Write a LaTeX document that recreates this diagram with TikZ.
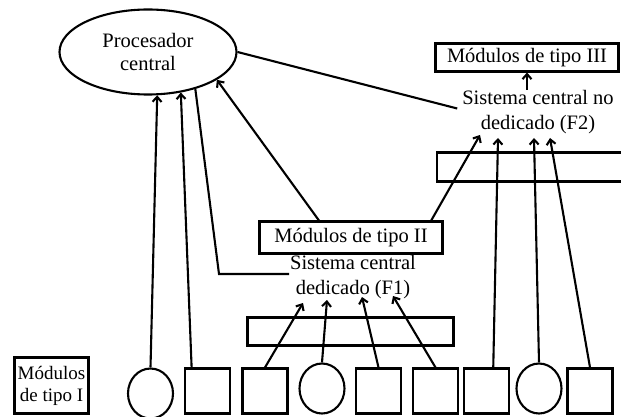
\documentclass[tikz,border=0pt]{standalone}
\usepackage{fontspec}
\setmainfont{Liberation Serif}
\usetikzlibrary{arrows.meta,calc,shapes.geometric}
\begin{document}
\begin{tikzpicture}[x=1pt,y=-1pt,
  line width=2.1pt,
  bigfont/.style={font=\fontsize{20.5}{25}\selectfont},
  txt/.style={bigfont, align=center, inner sep=0pt},
  box/.style={draw, rectangle, inner sep=0pt, bigfont},
  bar/.style={draw, rectangle, inner sep=0pt},
  circ/.style={draw, ellipse, inner sep=0pt, minimum width=45pt, minimum height=50pt},
  sq/.style={draw, rectangle, inner sep=0pt, minimum width=45pt, minimum height=45pt},
  arr/.style={-{Straight Barb[length=5pt,width=9pt]}}
]
\clip (0,0) rectangle (621,417);

% top
\node[draw, ellipse, minimum width=177pt, minimum height=85pt, inner sep=0pt,
      align=center, font=\fontsize{20.5}{23}\selectfont] (proc) at (148,52) {Procesador\\central};
\node[box, minimum width=183pt, minimum height=28pt] (m3) at (527,57.5) {Módulos de tipo III};
\node[txt] (f2) at (538,112.5) {Sistema central no\\dedicado (F2)};
\node[bar, minimum width=200pt, minimum height=29pt, anchor=west] (bar2) at (436,167) {};

% middle
\node[box, minimum width=183pt, minimum height=32pt] (m2) at (351,237.5) {Módulos de tipo II};
\node[txt] (f1) at (353,277.5) {Sistema central\\dedicado (F1)};
\node[bar, minimum width=206pt, minimum height=28pt] (bar1) at (350.5,331.5) {};

% bottom
\node[draw, inner sep=0pt, minimum width=74pt, minimum height=56pt, align=center,
      font=\fontsize{19}{22}\selectfont] (m1) at (51.5,385.5) {Módulos\\de tipo I};
\node[circ] (c1) at (150.5,393.5) {};
\node[sq] (s1) at (207.5,391) {};
\node[sq] (s2) at (265,391) {};
\node[circ] (c2) at (322,388.5) {};
\node[sq] (s3) at (378.5,391) {};
\node[sq] (s4) at (435.5,391) {};
\node[sq] (s5) at (486.5,391) {};
\node[circ] (c3) at (539,388.5) {};
\node[sq] (s6) at (590,391) {};

% connectors to processor
\draw[arr] (c1.north) -- (proc.-78);
\draw[arr] (s1.124) -- (proc.-51);
\coordinate (bend) at (219,274);
\draw (proc.-38) -- (bend) -- (bend -| f1.west);
\draw[arr] (m2.152) -- (proc.-22);
\draw (proc.east) -- ($(f2.west)+(-4,-4)$);

% F2
\draw[arr] (m3.south |- f2.north) -- (m3.south);
\draw[arr] (m2.12) -- ($(f2.center)+(-58,22.5)$);
\draw[arr] (s5.74) -- ($(f2.center)+(-40,25.5)$);
\draw[arr] (c3.north) -- ($(f2.center)+(-4,25.5)$);
\draw[arr] (s6.north) -- ($(f2.center)+(12,25.5)$);

% F1
\draw[arr] (s2.north) -- ($(f1.center)+(-50,25.5)$);
\draw[arr] (c2.north) -- ($(f1.center)+(-26,22.5)$);
\draw[arr] (s3.north) -- ($(f1.center)+(9,19.5)$);
\draw[arr] (s4.north) -- ($(f1.center)+(40,18.5)$);
\end{tikzpicture}
\end{document}
